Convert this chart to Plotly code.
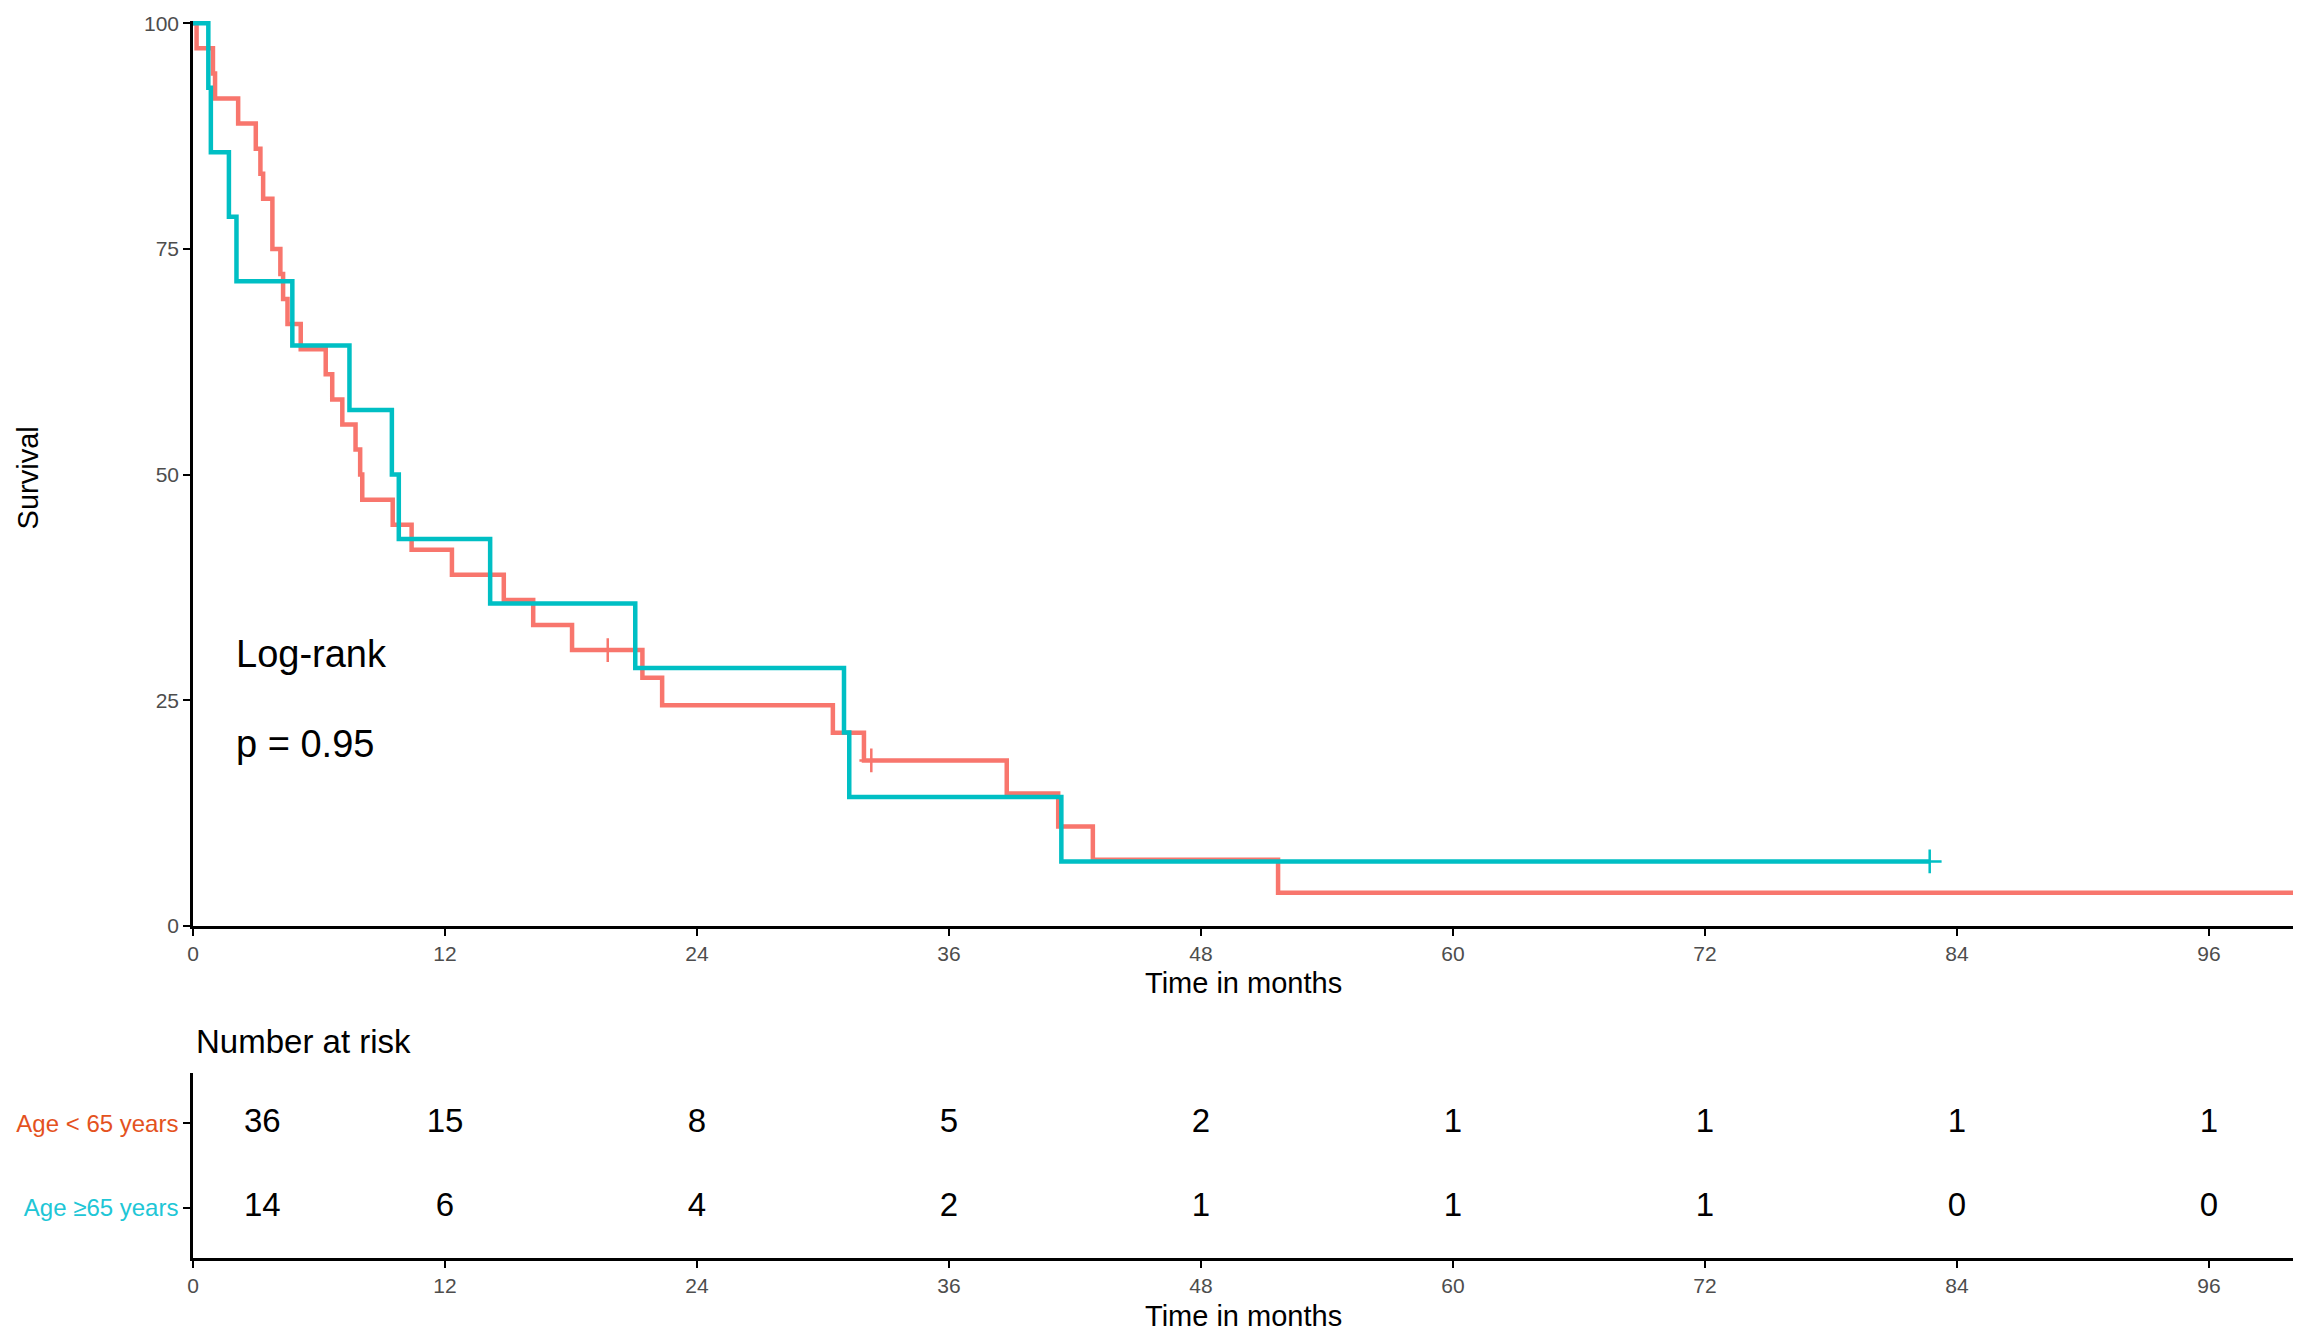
"""
Kaplan-Meier survival by age group, with a number-at-risk table underneath.
"""

import plotly.graph_objects as go

# ── Data ──────────────────────────────────────────────────────────────────────

# Age < 65 years: event times (months) and survival (%) after each step
lt65_times = [0.17, 0.95, 1.05, 2.15, 2.99, 3.21, 3.34, 3.78, 4.16, 4.29, 4.5,
              5.13, 6.32, 6.63, 7.11, 7.74, 7.96, 8.06, 9.51, 10.41, 12.33,
              14.8, 16.2, 18.05, 21.4, 22.34, 30.47, 31.95, 38.75, 41.2,
              42.85, 51.67]
lt65_surv = [97.22, 94.44, 91.67, 88.89, 86.11, 83.33, 80.56, 75.0, 72.22,
             69.44, 66.67, 63.89, 61.11, 58.33, 55.56, 52.78, 50.0, 47.22,
             44.44, 41.67, 38.89, 36.11, 33.33, 30.56, 27.5, 24.44, 21.39,
             18.33, 14.67, 11.0, 7.33, 3.67]
lt65_end = 100.0
lt65_censor_t = [19.75, 32.3]
lt65_censor_s = [30.56, 18.33]

# Age >= 65 years
ge65_times = [0.73, 0.85, 1.71, 2.07, 4.73, 7.45, 9.47, 9.8, 14.15, 21.06,
              31.0, 31.25, 41.35]
ge65_surv = [92.86, 85.71, 78.57, 71.43, 64.29, 57.14, 50.0, 42.86, 35.71,
             28.57, 21.43, 14.29, 7.14]
ge65_end = 82.7
ge65_censor_t = [82.7]
ge65_censor_s = [7.14]

# Number at risk
risk_times = [0, 12, 24, 36, 48, 60, 72, 84, 96]
risk_lt65 = [36, 15, 8, 5, 2, 1, 1, 1, 1]
risk_ge65 = [14, 6, 4, 2, 1, 1, 1, 0, 0]

group_labels = ["Age < 65 years", "Age \u226565 years"]
y_ticks = [0, 25, 50, 75, 100]
x_ticks = [0, 12, 24, 36, 48, 60, 72, 84, 96]

# ── Style ─────────────────────────────────────────────────────────────────────

RED = "#F8766D"
BLUE = "#00BFC4"
RED_LABEL = "#E4521E"
BLUE_LABEL = "#20C6D6"
FONT = "Liberation Sans, Arial, sans-serif"
TICK_GREY = "#4D4D4D"

W, H = 2308, 1332
M_L, M_R, M_T, M_B = 193, 15, 14, 74
PLOT_H = H - M_T - M_B


def py(px_y):
    """pixel row -> paper y"""
    return (H - M_B - px_y) / PLOT_H


def px_(px_x):
    """pixel column -> paper x"""
    return (px_x - M_L) / (W - M_L - M_R)


def step_xy(times, surv, end):
    x = [0] + list(times) + [end]
    y = [100] + list(surv) + [surv[-1]]
    return x, y


fig = go.Figure()

for times, surv, end, ct, cs, col, name in [
    (lt65_times, lt65_surv, lt65_end, lt65_censor_t, lt65_censor_s, RED, group_labels[0]),
    (ge65_times, ge65_surv, ge65_end, ge65_censor_t, ge65_censor_s, BLUE, group_labels[1]),
]:
    x, y = step_xy(times, surv, end)
    fig.add_trace(go.Scatter(
        x=x, y=y, mode="lines", line=dict(color=col, width=4.5, shape="hv"),
        name=name, showlegend=False, xaxis="x", yaxis="y",
    ))
    fig.add_trace(go.Scatter(
        x=ct, y=cs, mode="markers",
        marker=dict(symbol="cross-thin", size=17, line=dict(width=2.5, color=col)),
        showlegend=False, xaxis="x", yaxis="y", hoverinfo="skip",
    ))

# risk table numbers (first column nudged right, off the axis)
text_x = [max(t, 3.3) for t in risk_times]
for vals, row in [(risk_lt65, 2), (risk_ge65, 1)]:
    fig.add_trace(go.Scatter(
        x=text_x, y=[row] * len(vals), mode="text",
        text=[str(v) for v in vals],
        textfont=dict(family=FONT, size=33, color="black"),
        showlegend=False, xaxis="x2", yaxis="y2", hoverinfo="skip",
    ))

axis_common = dict(
    showline=True, linecolor="black", linewidth=2.5,
    ticks="outside", ticklen=7, tickwidth=2, tickcolor="black",
    showgrid=False, zeroline=False,
    tickfont=dict(family=FONT, size=21, color=TICK_GREY),
)

fig.update_layout(
    width=W, height=H,
    margin=dict(l=M_L, r=M_R, t=M_T, b=M_B),
    plot_bgcolor="white", paper_bgcolor="white",
    font=dict(family=FONT, color="black"),
    xaxis=dict(domain=[0, 1], range=[0, 100], tickvals=x_ticks, anchor="y",
               **axis_common),
    yaxis=dict(domain=[py(924), 1], range=[0, 100.25], tickvals=y_ticks,
               anchor="x", **axis_common),
    xaxis2=dict(domain=[0, 1], range=[0, 100], tickvals=x_ticks, anchor="y2",
                **axis_common),
    yaxis2=dict(domain=[0, py(1072)], range=[0.4, 2.6], tickvals=[2, 1],
                ticktext=[f"<span style='color:{RED_LABEL}'>{group_labels[0]}</span>",
                          f"<span style='color:{BLUE_LABEL}'>{group_labels[1]}</span>"],
                anchor="x2",
                **{**axis_common, "tickfont": dict(family=FONT, size=24)}),
)

annos = [
    dict(text="Time in months", x=0.5, y=py(981), size=29),
    dict(text="Time in months", x=0.5, y=py(1316), size=29),
    dict(text="Survival", x=px_(28), y=py(474), size=29, textangle=-90),
]
for a in annos:
    fig.add_annotation(
        text=a["text"], xref="paper", yref="paper", x=a["x"], y=a["y"],
        xanchor="center", yanchor="middle", showarrow=False,
        textangle=a.get("textangle", 0),
        font=dict(family=FONT, size=a["size"], color="black"),
    )

fig.add_annotation(
    text="Number at risk", xref="paper", yref="paper", x=px_(194), y=py(1040),
    xanchor="left", yanchor="middle", showarrow=False,
    font=dict(family=FONT, size=33, color="black"),
)
fig.add_annotation(
    text="Log-rank", xref="x", yref="y", x=1.95, y=30.1,
    xanchor="left", yanchor="middle", showarrow=False,
    font=dict(family=FONT, size=38, color="black"),
)
fig.add_annotation(
    text="p = 0.95", xref="x", yref="y", x=1.95, y=20.1,
    xanchor="left", yanchor="middle", showarrow=False,
    font=dict(family=FONT, size=38, color="black"),
)

# drop the default 8px page margin so the figure sits flush in the window
fig.write_html("out.html", config={"displayModeBar": False},
               post_script="document.body.style.margin='0px';")
